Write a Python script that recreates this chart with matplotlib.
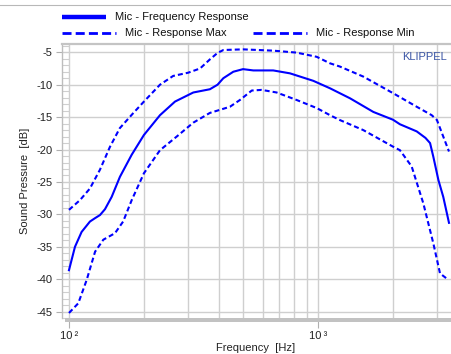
import matplotlib
matplotlib.use("Agg")
import matplotlib.pyplot as plt
from matplotlib.lines import Line2D
from matplotlib.patches import Rectangle
from matplotlib.ticker import FixedLocator, NullFormatter, MultipleLocator

plt.rcParams['font.family'] = ['Liberation Sans', 'DejaVu Sans']
plt.rcParams['lines.scale_dashes'] = False

# ---- data ----
freq_main = [100, 105.7, 112.4, 121.4, 127, 133.2, 139.5, 148.4, 160.2, 178.6, 200, 232, 266.6,
             315.7, 368, 395, 416.7, 457, 500, 550, 661, 772, 957, 1117, 1345, 1668, 2000, 2133,
             2491, 2700, 2818, 2904, 3044, 3184, 3357]
db_main = [-38.6, -35.0, -32.7, -31.1, -30.6, -30.1, -29.2, -27.3, -24.2, -20.8, -17.75, -14.7, -12.6,
           -11.2, -10.7, -10.0, -9.0, -8.0, -7.6, -7.8, -7.8, -8.25, -9.4, -10.55, -12.1, -14.2, -15.4, -16.1,
           -17.2, -18.2, -19.0, -21.1, -24.7, -27.3, -31.3]

freq_max = [100, 110.7, 121.4, 133.2, 146, 160, 181, 200, 232, 262, 301, 336, 368, 395, 417, 500,
            661, 820, 988, 1117, 1224, 1520, 2000, 2491, 2861, 3003, 3184, 3357]
db_max = [-29.3, -27.8, -26.0, -23.1, -19.6, -16.7, -14.4, -12.6, -10.0, -8.65, -8.15, -7.5, -6.1,
          -5.1, -4.65, -4.55, -4.75, -5.05, -5.7, -6.7, -7.2, -8.75, -11.3, -13.4, -14.7, -15.45, -18.0, -20.3]

freq_min = [100, 109, 117.8, 127.3, 137.4, 153, 165, 178.6, 200, 232, 270.7, 315.7, 368, 443, 486,
            542, 594, 682, 820, 988, 1117, 1224, 1520, 2000, 2133, 2377, 2648, 2904, 3090, 3340]
db_min = [-45.2, -43.7, -40.1, -35.75, -33.9, -32.9, -31.1, -27.8, -23.65, -20.1, -18.0, -15.85,
          -14.35, -13.4, -12.35, -10.9, -10.8, -11.2, -12.35, -13.6, -14.7, -15.45, -17.0, -19.55,
          -20.1, -22.6, -28.3, -34.45, -39.1, -40.1]

legend_labels = ["Mic - Frequency Response", "Mic - Response Max", "Mic - Response Min"]
y_ticks = [-5, -10, -15, -20, -25, -30, -35, -40, -45]
x_ticks = [100, 1000]
x_tick_labels = ["10\u2009\u00b2", "10\u2009\u00b3"]
x_grid = [200, 300, 400, 500, 600, 700, 800, 900, 2000, 3000]

W, H = 451, 354
fig = plt.figure(figsize=(W / 100, H / 100), dpi=100)

def fx(px):
    return px / W

def fy(py):
    return 1 - py / H

ax_left, ax_right, ax_top, ax_bot = 61.7, 451, 44.3, 318.3
ax = fig.add_axes([fx(ax_left), fy(ax_bot), fx(ax_right - ax_left), (ax_bot - ax_top) / H])

blue = '#0000ff'
dash = (0, (3.6, 2.2))
ax.plot(freq_main, db_main, color=blue, lw=1.5, zorder=3, solid_joinstyle='round')
ax.plot(freq_max, db_max, color=blue, lw=1.5, linestyle=dash, zorder=3)
ax.plot(freq_min, db_min, color=blue, lw=1.5, linestyle=dash, zorder=3)

ax.set_xscale('log')
ax.set_xlim(93.5, 3420)
ax.set_ylim(-46.02, -3.77)

gridc = '#cfcfcf'
for g in x_grid + x_ticks:
    ax.axvline(g, color=gridc, lw=1.0, zorder=1)
for t in y_ticks:
    ax.axhline(t, color=gridc, lw=1.0, zorder=1)

ax.xaxis.set_major_locator(FixedLocator(x_ticks))
ax.xaxis.set_minor_locator(FixedLocator([]))
ax.set_xticklabels(x_tick_labels, fontsize=8)
ax.yaxis.set_major_locator(FixedLocator(y_ticks))
ax.yaxis.set_minor_locator(MultipleLocator(1))
ax.set_yticklabels([str(t) for t in y_ticks], fontsize=8)

ax.tick_params(axis='y', which='major', direction='out', length=4.5, width=0.8,
               color='#b0b0b0', pad=2, labelcolor='#222222')
ax.tick_params(axis='y', which='minor', direction='in', length=4.8, width=0.8, color=gridc)
ax.tick_params(axis='x', which='major', direction='out', length=7, width=0.8,
               color='#b0b0b0', pad=2, labelcolor='#222222')

for s in ['right']:
    ax.spines[s].set_visible(False)
ax.spines['left'].set_color('#bdbdbd')
ax.spines['left'].set_linewidth(1.0)
ax.spines['top'].set_color('#c4c4c4')
ax.spines['top'].set_linewidth(1.6)
ax.spines['bottom'].set_visible(False)

# thick gray bar at bottom of plot
fig.patches.append(Rectangle((fx(65), fy(322.3)), fx(W - 65), 4 / H, transform=fig.transFigure,
                             facecolor='#c2c2c2', edgecolor='none'))

ax.set_ylabel("Sound Pressure  [dB]", fontsize=8, color='#222222', labelpad=5)
fig.text(fx(256), fy(348), "Frequency  [Hz]", fontsize=8, color='#222222', ha='center', va='center')

fig.text(fx(447), fy(57), "KLIPPEL", ha='right', va='center', fontsize=8, color='#3a55a5')

# top separator line
fig.lines.append(Line2D([0, 1], [fy(5), fy(5)], transform=fig.transFigure, color='#b8b8b8', lw=0.8))

# legend (manual)
fig.lines.append(Line2D([fx(62), fx(106)], [fy(17.3), fy(17.3)], transform=fig.transFigure,
                        color=blue, lw=3.2, solid_capstyle='butt'))
fig.text(fx(115), fy(17), legend_labels[0], fontsize=8, va='center', ha='left', color='#111111')
fig.lines.append(Line2D([fx(62), fx(116)], [fy(33.3), fy(33.3)], transform=fig.transFigure,
                        color=blue, lw=2.0, linestyle=(0, (6.5, 3.0))))
fig.text(fx(125), fy(33), legend_labels[1], fontsize=8, va='center', ha='left', color='#111111')
fig.lines.append(Line2D([fx(253), fx(307)], [fy(33.3), fy(33.3)], transform=fig.transFigure,
                        color=blue, lw=2.0, linestyle=(0, (6.5, 3.0))))
fig.text(fx(316), fy(33), legend_labels[2], fontsize=8, va='center', ha='left', color='#111111')

fig.savefig("out.png", dpi=100)
